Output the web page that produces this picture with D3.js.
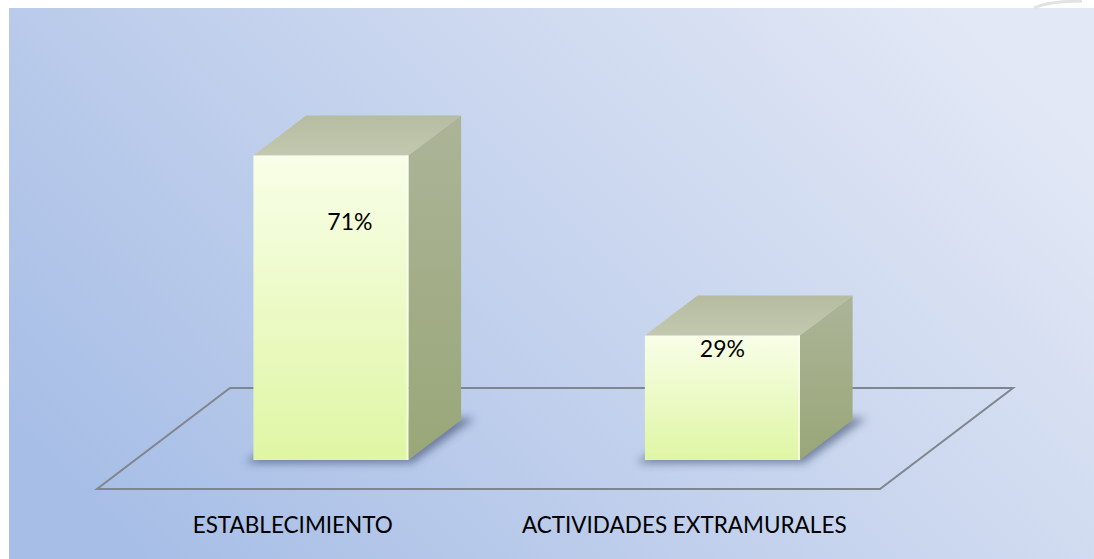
<!DOCTYPE html>
<html>
<head>
<meta charset="utf-8">
<script src="https://cdn.jsdelivr.net/npm/d3@7"></script>
<style>
  html, body { margin: 0; padding: 0; background: #fff; }
  svg { display: block; }
  text { font-family: Lato, "Open Sans", sans-serif; fill: #000; }
</style>
</head>
<body>
<div id="chart"></div>
<script>
// chart data
var categories = ["ESTABLECIMIENTO", "ACTIVIDADES EXTRAMURALES"];
var values = [71, 29];
var valueLabels = ["71%", "29%"];

var width = 1094, height = 559;

// floor: front-left corner, length, and depth vector
var floorX = 97, floorY = 489, floorLen = 783;
var depthX = 133, depthY = -101;
// bars sit between these depth fractions
var barD0 = 0.287, barD1 = 0.683;

var svg = d3.select("#chart").append("svg")
    .attr("width", width)
    .attr("height", height);

var defs = svg.append("defs");

var bg = defs.append("linearGradient")
    .attr("id", "bg")
    .attr("x1", "0%").attr("y1", "75%")
    .attr("x2", "100%").attr("y2", "25%");
bg.append("stop").attr("offset", "0%").attr("stop-color", "#a7bee6");
bg.append("stop").attr("offset", "55%").attr("stop-color", "#c8d5ee");
bg.append("stop").attr("offset", "100%").attr("stop-color", "#e2e8f5");

var front = defs.append("linearGradient")
    .attr("id", "front")
    .attr("x1", "0%").attr("y1", "0%")
    .attr("x2", "0%").attr("y2", "100%");
front.append("stop").attr("offset", "0%").attr("stop-color", "#f8fee8");
front.append("stop").attr("offset", "100%").attr("stop-color", "#dff6a4");

var side = defs.append("linearGradient")
    .attr("id", "side")
    .attr("x1", "0%").attr("y1", "0%")
    .attr("x2", "0%").attr("y2", "100%");
side.append("stop").attr("offset", "0%").attr("stop-color", "#acb498");
side.append("stop").attr("offset", "100%").attr("stop-color", "#99a778");

var topG = defs.append("linearGradient")
    .attr("id", "top")
    .attr("x1", "0%").attr("y1", "100%")
    .attr("x2", "0%").attr("y2", "0%");
topG.append("stop").attr("offset", "0%").attr("stop-color", "#c3c9b0");
topG.append("stop").attr("offset", "100%").attr("stop-color", "#b5bca0");

defs.append("filter")
    .attr("id", "blur")
    .attr("x", "-20%").attr("y", "-20%")
    .attr("width", "140%").attr("height", "140%")
    .append("feGaussianBlur").attr("stdDeviation", 4);

// background panel
svg.append("rect")
    .attr("x", 9).attr("y", 8)
    .attr("width", width - 9).attr("height", height - 8)
    .attr("fill", "url(#bg)");

// faint grey mark in the white strip, top right
svg.append("path")
    .attr("d", "M1034,8 C1045,3 1058,1 1082,1")
    .attr("fill", "none")
    .attr("stroke", "#e2e2e2")
    .attr("stroke-width", 3);

// scales
var x = d3.scaleBand()
    .domain(categories)
    .range([0, floorLen])
    .paddingInner(0.604)
    .paddingOuter(0.302);

var baseY = floorY + depthY * barD0;
var y = d3.scaleLinear()
    .domain([0, 100])
    .range([baseY, baseY - 429]);

function proj(px, d) {
    return [floorX + px + d * depthX, floorY + d * depthY];
}

// floor
var floorPts = [proj(0, 0), proj(floorLen, 0), proj(floorLen, 1), proj(0, 1)];
svg.append("path")
    .attr("d", d3.line()(floorPts) + "Z")
    .attr("fill", "none")
    .attr("stroke", "#80868e")
    .attr("stroke-width", 2);

var bars = categories.map(function(c, i) {
    var x0 = x(c), x1 = x(c) + x.bandwidth();
    var f0 = proj(x0, barD0), f1 = proj(x1, barD0);
    var b0 = proj(x0, barD1), b1 = proj(x1, barD1);
    var h = baseY - y(values[i]);
    return {
        cat: c, label: valueLabels[i], h: h,
        fl: f0, fr: f1, bl: b0, br: b1
    };
});

// shadows on the floor
svg.selectAll(".shadow")
    .data(bars)
    .enter().append("path")
    .attr("class", "shadow")
    .attr("d", function(d) {
        return d3.line()([
            [d.fl[0] - 8, d.fl[1] + 3], [d.fr[0] + 4, d.fr[1] + 3],
            [d.br[0] + 14, d.br[1] - 2], [d.bl[0], d.bl[1] - 2]
        ]) + "Z";
    })
    .attr("fill", "#2c3b5e")
    .attr("opacity", 0.55)
    .attr("filter", "url(#blur)");

var g = svg.selectAll(".bar")
    .data(bars)
    .enter().append("g")
    .attr("class", "bar");

// top face
g.append("path")
    .attr("d", function(d) {
        return d3.line()([
            [d.fl[0], d.fl[1] - d.h], [d.fr[0], d.fr[1] - d.h],
            [d.br[0], d.br[1] - d.h], [d.bl[0], d.bl[1] - d.h]
        ]) + "Z";
    })
    .attr("fill", "url(#top)");

// side face
g.append("path")
    .attr("d", function(d) {
        return d3.line()([
            [d.fr[0], d.fr[1] - d.h], [d.br[0], d.br[1] - d.h],
            [d.br[0], d.br[1]], [d.fr[0], d.fr[1]]
        ]) + "Z";
    })
    .attr("fill", "url(#side)");

// front face
g.append("rect")
    .attr("x", function(d) { return d.fl[0]; })
    .attr("y", function(d) { return d.fl[1] - d.h; })
    .attr("width", function(d) { return d.fr[0] - d.fl[0]; })
    .attr("height", function(d) { return d.h; })
    .attr("fill", "url(#front)");

// light edge between front and side
g.append("line")
    .attr("x1", function(d) { return d.fr[0] - 1; })
    .attr("x2", function(d) { return d.fr[0] - 1; })
    .attr("y1", function(d) { return d.fr[1] - d.h; })
    .attr("y2", function(d) { return d.fr[1]; })
    .attr("stroke", "#fbfff0")
    .attr("stroke-width", 2)
    .attr("opacity", 0.7);

// value labels (hand-placed in the original chart)
var labelNudge = [[19, 75], [0, 21]];
g.append("text")
    .attr("x", function(d, i) { return (d.fl[0] + d.fr[0]) / 2 + labelNudge[i][0]; })
    .attr("y", function(d, i) { return d.fl[1] - d.h + labelNudge[i][1]; })
    .attr("text-anchor", "middle")
    .attr("font-size", 23)
    .text(function(d) { return d.label; });

// category labels
svg.selectAll(".cat")
    .data(categories)
    .enter().append("text")
    .attr("class", "cat")
    .attr("x", function(c) { return floorX + x(c) + x.bandwidth() / 2; })
    .attr("y", 533)
    .attr("text-anchor", "middle")
    .attr("font-size", 22.5)
    .text(function(c) { return c; });
</script>
</body>
</html>
